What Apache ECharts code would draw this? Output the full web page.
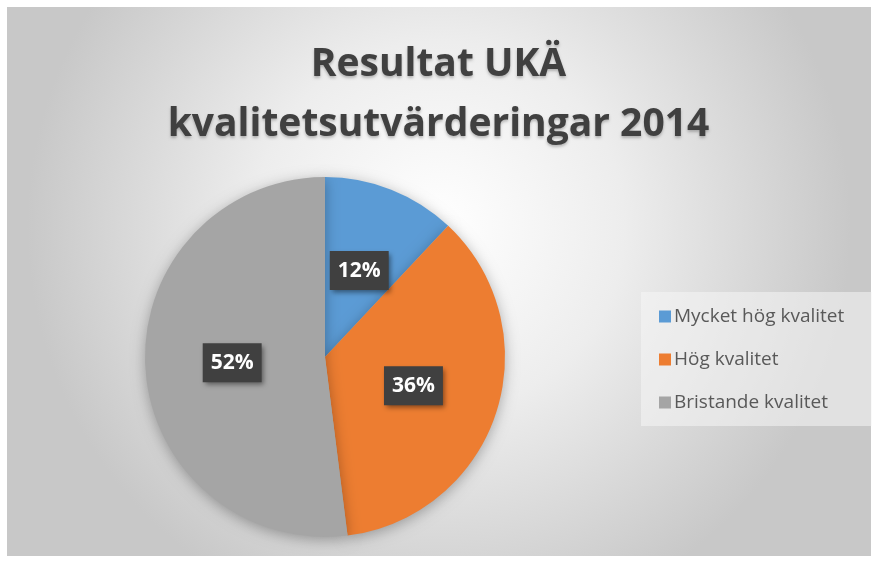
<!DOCTYPE html>
<html>
<head>
<meta charset="utf-8">
<script src="https://cdn.jsdelivr.net/npm/echarts@6/dist/echarts.min.js"></script>
<style>
  html, body { margin: 0; padding: 0; background: #fff; }
  #chart { width: 877px; height: 562px; }
</style>
</head>
<body>
<div id="chart"></div>
<script>
// data
var categories = ["Mycket hög kvalitet", "Hög kvalitet", "Bristande kvalitet"];
var values = [12, 36, 52];
var colors = ["#5B9BD5", "#ED7D31", "#A5A5A5"];
var titleText = "Resultat UKÄ\nkvalitetsutvärderingar 2014";

var chart = echarts.init(document.getElementById("chart"));

var pieData = categories.map(function (name, i) {
  return { name: name, value: values[i], itemStyle: { color: colors[i] } };
});

chart.setOption({
  animation: false,
  graphic: [
    {
      type: "rect",
      z: -10,
      shape: { x: 7, y: 7, width: 864, height: 549 },
      style: {
        fill: {
          type: "radial", x: 0.5, y: 0.4, r: 0.75,
          colorStops: [
            { offset: 0, color: "#ffffff" },
            { offset: 0.45, color: "#ededed" },
            { offset: 1, color: "#c8c8c8" }
          ]
        }
      }
    },
    {
      // legend backdrop
      type: "rect",
      z: -5,
      shape: { x: 641, y: 292, width: 231, height: 134 },
      style: { fill: "rgba(245,245,245,0.55)" }
    }
  ],
  title: {
    text: titleText,
    left: "center",
    top: 30,
    textStyle: {
      fontFamily: "Open Sans",
      fontSize: 39,
      fontWeight: "bold",
      color: "#404040",
      lineHeight: 60,
      textShadowColor: "rgba(0,0,0,0.25)",
      textShadowBlur: 3,
      textShadowOffsetY: 2
    }
  },
  legend: {
    orient: "vertical",
    left: 654,
    top: 302,
    itemWidth: 12,
    itemHeight: 12,
    itemGap: 24,
    icon: "rect",
    data: categories,
    textStyle: { fontFamily: "Open Sans", fontSize: 19, color: "#595959", padding: [0, 0, 0, -2] }
  },
  series: [
    {
      type: "pie",
      center: [325, 357],
      radius: [0, 180],
      startAngle: 90,
      clockwise: true,
      data: pieData,
      itemStyle: {
        shadowColor: "rgba(0,0,0,0.3)",
        shadowBlur: 14,
        shadowOffsetY: 3
      },
      label: {
        show: true,
        position: "inside",
        formatter: "{d}%",
        fontFamily: "Open Sans",
        fontSize: 21,
        fontWeight: "bold",
        color: "#ffffff",
        backgroundColor: "#404040",
        padding: [10, 8, 8, 8],
        shadowColor: "rgba(0,0,0,0.45)",
        shadowBlur: 5,
        shadowOffsetX: 2,
        shadowOffsetY: 3
      },
      labelLine: { show: false },
      emphasis: { disabled: true }
    }
  ]
});
</script>
</body>
</html>
